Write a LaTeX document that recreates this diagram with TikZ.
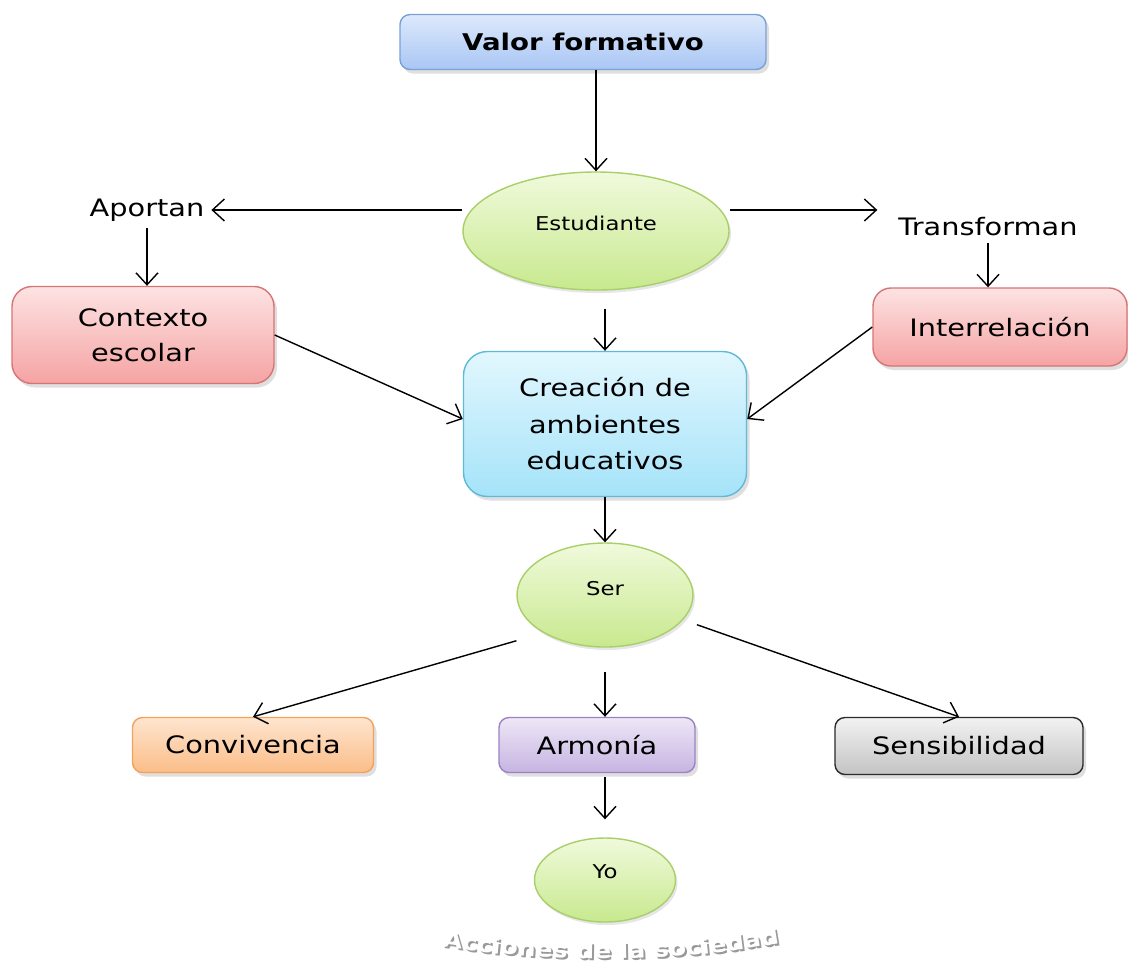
\documentclass[tikz,border=0pt]{standalone}
\usepackage{fontspec}
\setmainfont{DejaVu Sans}[FakeStretch=1.2]
\usetikzlibrary{arrows.meta,shadows,shapes.geometric,decorations.text}

\definecolor{bluetop}{HTML}{DDE9FC}
\definecolor{bluebot}{HTML}{A9C6F4}
\definecolor{blueline}{HTML}{7AA0D8}
\definecolor{greentop}{HTML}{F0FADC}
\definecolor{greenbot}{HTML}{C8E98E}
\definecolor{greenline}{HTML}{A8CF6A}
\definecolor{redtop}{HTML}{FDE3E3}
\definecolor{redbot}{HTML}{F5A3A3}
\definecolor{redline}{HTML}{D77474}
\definecolor{cyantop}{HTML}{E2F7FE}
\definecolor{cyanbot}{HTML}{A5E3F9}
\definecolor{cyanline}{HTML}{5FB9D9}
\definecolor{orangetop}{HTML}{FEE5CF}
\definecolor{orangebot}{HTML}{FBBD88}
\definecolor{orangeline}{HTML}{F1A25C}
\definecolor{purpletop}{HTML}{EEE7F6}
\definecolor{purplebot}{HTML}{C6B4E2}
\definecolor{purpleline}{HTML}{9B82C3}
\definecolor{greytop}{HTML}{F2F2F2}
\definecolor{greybot}{HTML}{C3C3C3}
\definecolor{greyline}{HTML}{2A2A2A}

\begin{document}
\begin{tikzpicture}[x=0.5pt,y=-0.5pt,
  box/.style={draw, line width=0.7pt, rounded corners=5pt, inner sep=0pt, align=center,
    font=\fontsize{12}{17.5}\selectfont,
    drop shadow={opacity=0.25,shadow xshift=1.5pt,shadow yshift=-2pt}},
  bluebox/.style={draw=blueline, top color=bluetop, bottom color=bluebot},
  redbox/.style={draw=redline, top color=redtop, bottom color=redbot},
  cyanbox/.style={draw=cyanline, top color=cyantop, bottom color=cyanbot},
  orangebox/.style={draw=orangeline, top color=orangetop, bottom color=orangebot},
  purplebox/.style={draw=purpleline, top color=purpletop, bottom color=purplebot},
  greybox/.style={draw=greyline, top color=greytop, bottom color=greybot},
  oval/.style={ellipse, draw=greenline, line width=0.7pt, top color=greentop, bottom color=greenbot,
    inner sep=0pt, drop shadow={opacity=0.2,shadow xshift=1pt,shadow yshift=-1.5pt}},
  smalltxt/.style={font=\fontsize{9.5}{12}\selectfont, yshift=4pt},
  lbl/.style={font=\fontsize{12}{15}\selectfont},
  arr/.style={-{Straight Barb[length=6pt,width=11pt]}, line width=0.7pt}]
  \useasboundingbox (0,0) rectangle (1128,966);

  % top
  \node[box, bluebox, minimum width=183pt, minimum height=27.5pt,
    font=\bfseries\fontsize{11.5}{14}\selectfont] (valor) at (583,42) {Valor formativo};
  \node[oval, minimum width=133pt, minimum height=59pt,
    label={[smalltxt]center:Estudiante}] (estudiante) at (596,231) {};
  \node[lbl] (aportan) at (147,210) {Aportan};
  \node[lbl] (transforman) at (988,227) {Transforman};

  % middle
  \node[box, redbox, minimum width=131pt, minimum height=48.5pt, rounded corners=10pt]
    (contexto) at (143,335) {Contexto\\escolar};
  \node[box, redbox, minimum width=127pt, minimum height=39pt, rounded corners=9pt]
    (interrel) at (1000,327) {Interrelación};
  \node[box, cyanbox, minimum width=141.5pt, minimum height=72.5pt, rounded corners=12pt,
    font=\fontsize{12}{18.25}\selectfont] (creacion) at (605,424) {Creación de\\ambientes\\educativos};
  \node[oval, minimum width=88pt, minimum height=52pt,
    label={[smalltxt, yshift=-1pt]center:Ser}] (ser) at (605,595) {};

  % bottom
  \node[box, orangebox, minimum width=120.5pt, minimum height=27.5pt]
    (convivencia) at (253,745) {Convivencia};
  \node[box, purplebox, minimum width=98pt, minimum height=27.5pt]
    (armonia) at (597,745) {Armonía};
  \node[box, greybox, minimum width=124pt, minimum height=28.5pt]
    (sensib) at (959,746) {Sensibilidad};
  \node[oval, minimum width=70.5pt, minimum height=42pt,
    label={[smalltxt]center:Yo}] (yo) at (605,880) {};

  % arrows
  \draw[arr] (estudiante.north |- valor.south) -- (estudiante.north);
  \draw[arr] (estudiante.west |- aportan.east) -- (aportan.east);
  \draw[arr, shorten >=7pt] (estudiante.east |- aportan.east) -- (transforman.west |- aportan.east);
  \draw[arr] (aportan.south) -- (aportan.south |- contexto.north);
  \draw[arr] (transforman.south) -- (transforman.south |- interrel.north);
  \draw[arr, shorten <=9pt] (creacion.north |- estudiante.south) -- (creacion.north);
  \draw[arr] (contexto.east) -- (creacion.178);
  \draw[arr] (interrel.west) -- (creacion.2);
  \draw[arr] (creacion.south) -- (ser.north);
  \draw[arr] ([shift={(-25,9)}]ser.210) -- (convivencia.north);
  \draw[arr, shorten <=12pt] (ser.south) -- (ser.south |- armonia.north);
  \draw[arr] ([shift={(11,8)}]ser.-15) -- (sensib.north);
  \draw[arr, shorten <=2pt, shorten >=9pt] (armonia.south -| yo.north) -- (yo.north);

  % watermark
  \path[decorate, decoration={text along path, text align=center,
    text={|\bfseries\fontsize{10.5}{12}\selectfont\color{gray!80}|Acciones de la sociedad}}]
    (453,950) .. controls (560,965) and (662,965) .. (773,947);
  \path[decorate, decoration={text along path, text align=center,
    text={|\bfseries\fontsize{10.5}{12}\selectfont\color{white}|Acciones de la sociedad}}]
    (451,948) .. controls (558,963) and (660,963) .. (771,945);
\end{tikzpicture}
\end{document}
